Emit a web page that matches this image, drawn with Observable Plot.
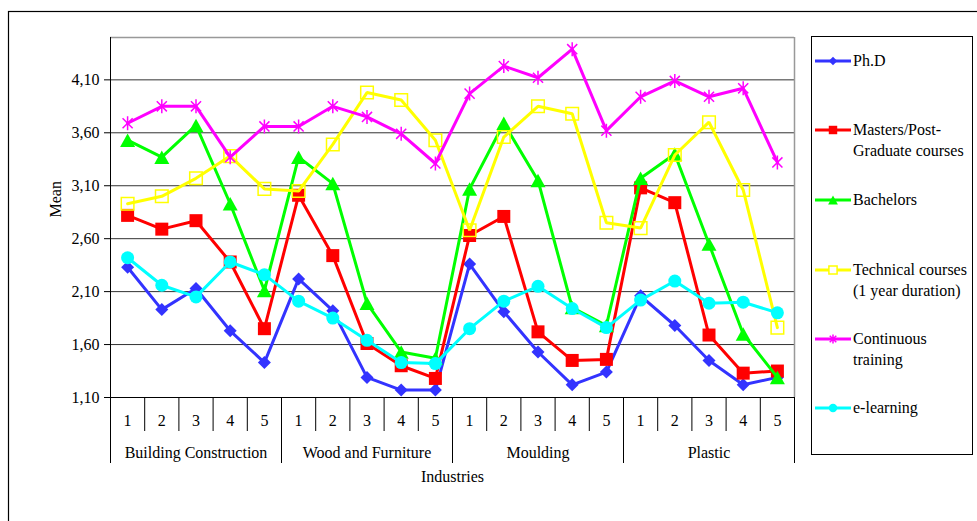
<!DOCTYPE html>
<html><head><meta charset="utf-8">
<script src="https://cdn.jsdelivr.net/npm/d3@7"></script>
<script src="https://cdn.jsdelivr.net/npm/@observablehq/plot@0.6"></script>
<style>body{margin:0;background:#fff} svg{display:block}</style>
</head><body><div id="chart"></div>
<script>
// ---- data ----
const industries = ["Building Construction", "Wood and Furniture", "Moulding", "Plastic"];
const levels = ["1", "2", "3", "4", "5"];
const seriesNames = ["Ph.D", "Masters/Post-Graduate courses", "Bachelors", "Technical courses (1 year duration)", "Continuous training", "e-learning"];
const legendLines = [["Ph.D"], ["Masters/Post-", "Graduate courses"], ["Bachelors"], ["Technical courses", "(1 year duration)"], ["Continuous", "training"], ["e-learning"]];
const phd        = [2.33, 1.93, 2.13, 1.73, 1.43,  2.22, 1.92, 1.29, 1.17, 1.17,  2.36, 1.91, 1.53, 1.22, 1.34,  2.06, 1.78, 1.45, 1.22, 1.29];
const masters    = [2.82, 2.69, 2.77, 2.38, 1.75,  3.01, 2.44, 1.61, 1.40, 1.28,  2.63, 2.81, 1.72, 1.45, 1.46,  3.08, 2.94, 1.69, 1.33, 1.35];
const bachelors  = [3.53, 3.37, 3.67, 2.93, 2.11,  3.37, 3.12, 1.99, 1.53, 1.47,  3.07, 3.69, 3.15, 1.95, 1.78,  3.17, 3.40, 2.55, 1.70, 1.29];
const technical  = [2.93, 3.00, 3.17, 3.38, 3.07,  3.05, 3.49, 3.98, 3.91, 3.53,  2.68, 3.56, 3.85, 3.78, 2.75,  2.70, 3.39, 3.70, 3.06, 1.76];
const continuous = [3.69, 3.85, 3.85, 3.37, 3.66,  3.66, 3.85, 3.75, 3.59, 3.31,  3.97, 4.23, 4.12, 4.39, 3.62,  3.94, 4.09, 3.94, 4.02, 3.32];
const elearning  = [2.42, 2.16, 2.05, 2.38, 2.26,  2.01, 1.85, 1.64, 1.43, 1.42,  1.75, 2.01, 2.15, 1.94, 1.76,  2.02, 2.20, 1.99, 2.00, 1.90];
const yTicks = [1.10, 1.60, 2.10, 2.60, 3.10, 3.60, 4.10];
const yMax = 4.50;
const seriesValues = [phd, masters, bachelors, technical, continuous, elearning];

// ---- styles ----
const colors = ["#3333ff", "#ff0000", "#00ff00", "#ffff00", "#ff00ff", "#00ffff"];
const FONT = "Liberation Serif, Times New Roman, serif";
const FS = 16;

const diamond = {draw(c, s) { const r = Math.sqrt(s / Math.PI); c.moveTo(0, -r); c.lineTo(r, 0); c.lineTo(0, r); c.lineTo(-r, 0); c.closePath(); }};
const square = {draw(c, s) { const r = Math.sqrt(s / Math.PI); c.rect(-r, -r, 2 * r, 2 * r); }};
const triangle = {draw(c, s) { const r = Math.sqrt(s / Math.PI); c.moveTo(0, -r * 0.9); c.lineTo(r, r * 0.9); c.lineTo(-r, r * 0.9); c.closePath(); }};
const asterisk = {draw(c, s) { const r = Math.sqrt(s / Math.PI); const a = r * 0.72; c.moveTo(0, -r); c.lineTo(0, r); c.moveTo(-a, -a); c.lineTo(a, a); c.moveTo(-a, a); c.lineTo(a, -a); }};
const circle = {draw(c, s) { const r = Math.sqrt(s / Math.PI); c.moveTo(r, 0); c.arc(0, 0, r, 0, 2 * Math.PI); }};
const markerStyles = [
  {symbol: diamond, r: 6.5, fill: colors[0], stroke: "none"},
  {symbol: square, r: 6.5, fill: colors[1], stroke: "none"},
  {symbol: triangle, r: 7.5, fill: colors[2], stroke: "none"},
  {symbol: square, r: 6.3, fill: "none", stroke: colors[3], strokeWidth: 1.5},
  {symbol: asterisk, r: 7, fill: "none", stroke: colors[4], strokeWidth: 1.5},
  {symbol: circle, r: 6.5, fill: colors[5], stroke: "none"}
];

// ---- table ----
const rows = [];
seriesNames.forEach((name, s) => {
  seriesValues[s].forEach((v, i) => rows.push({series: name, s, xi: i + 0.5, value: v}));
});

const fmt = d => d.toFixed(2).replace(".", ",");
const nCats = industries.length * levels.length;

const seriesMarks = [];
seriesNames.forEach((name, s) => {
  const data = rows.filter(d => d.s === s);
  seriesMarks.push(Plot.line(data, {x: "xi", y: "value", stroke: colors[s], strokeWidth: 3, strokeLinejoin: "miter"}));
  const m = markerStyles[s];
  seriesMarks.push(Plot.dot(data, {x: "xi", y: "value", symbol: m.symbol, r: m.r, fill: m.fill, stroke: m.stroke, strokeWidth: m.strokeWidth || 1}));
});

const plot = Plot.plot({
  width: 977,
  height: 521,
  marginLeft: 110,
  marginRight: 183,
  marginTop: 37,
  marginBottom: 124,
  style: {fontFamily: FONT, fontSize: FS + "px", background: "#fff", color: "#000"},
  x: {type: "linear", domain: [0, nCats], label: null},
  y: {domain: [1.10, yMax], label: null},
  marks: [
    Plot.ruleY(yTicks.slice(1), {stroke: "#333", strokeWidth: 1}),
    Plot.ruleY([yMax], {stroke: "#999", strokeWidth: 1.5}),
    Plot.ruleX([nCats], {stroke: "#999", strokeWidth: 1.5}),
    Plot.ruleX([0], {stroke: "#000", strokeWidth: 1}),
    Plot.ruleY([1.10], {stroke: "#000", strokeWidth: 1.2}),
    Plot.axisY({ticks: yTicks, tickFormat: fmt, tickSize: 6, tickPadding: 5, fontSize: FS, label: null, stroke: "#000"}),
    Plot.axisX({ticks: d3.range(0, nCats + 1), tickSize: 34, tickFormat: () => "", label: null, stroke: "#000"}),
    Plot.axisX({ticks: d3.range(0, nCats + 1, levels.length), tickSize: 66, tickFormat: () => "", label: null, stroke: "#000"}),
    Plot.axisX({ticks: d3.range(nCats).map(i => i + 0.5), tickSize: 0, tickPadding: 17.5, fontSize: FS,
      tickFormat: d => levels[Math.floor(d) % levels.length], label: null}),
    Plot.axisX({ticks: industries.map((_, g) => g * levels.length + levels.length / 2), tickSize: 0, tickPadding: 49.5, fontSize: FS,
      tickFormat: d => industries[Math.floor(d / levels.length)], label: null}),
    Plot.text(["Industries"], {frameAnchor: "bottom", dy: 84, fontSize: FS, fill: "#000"}),
    Plot.text(["Mean"], {frameAnchor: "left", dx: -55, rotate: -90, fontSize: FS, fill: "#000"}),
    ...seriesMarks
  ]
});

// outer border and legend
const svg = d3.select(plot);
svg.append("rect").attr("x", 8.5).attr("y", 11.5).attr("width", 1200).attr("height", 1200)
  .attr("fill", "none").attr("stroke", "#000").attr("stroke-width", 1.2);
const lg = svg.append("g").attr("font-family", FONT).attr("font-size", FS).attr("text-anchor", "start");
lg.append("rect").attr("x", 811.5).attr("y", 36.5).attr("width", 161).attr("height", 418)
  .attr("fill", "#fff").attr("stroke", "#000").attr("stroke-width", 1);
const legendY = [61, 130, 200, 270, 339, 408];
seriesNames.forEach((name, s) => {
  const y = legendY[s];
  lg.append("line").attr("x1", 815).attr("x2", 851).attr("y1", y).attr("y2", y)
    .attr("stroke", colors[s]).attr("stroke-width", 3);
  const m = markerStyles[s];
  const rr = m.r * 0.65;
  lg.append("path").attr("transform", `translate(833,${y})`)
    .attr("d", d3.symbol(m.symbol, Math.PI * rr * rr)())
    .attr("fill", m.fill === "none" ? "#fff" : m.fill).attr("stroke", m.stroke)
    .attr("stroke-width", m.strokeWidth || 1);
  legendLines[s].forEach((t, k) => {
    lg.append("text").attr("x", 853).attr("y", y + 5 + k * 20.5).attr("fill", "#000").text(t);
  });
});

document.getElementById("chart").appendChild(plot);
</script>
</body></html>
